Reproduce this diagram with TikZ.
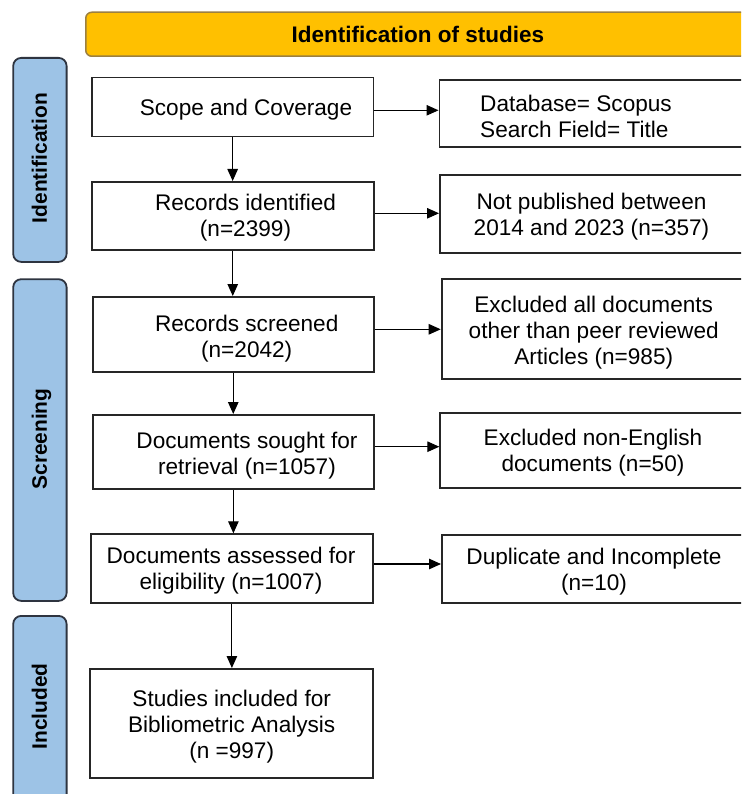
\documentclass[tikz,border=0pt]{standalone}
\usepackage{fontspec}
\setmainfont{Liberation Sans}
\usetikzlibrary{arrows.meta}
\definecolor{gold}{HTML}{FFC000}
\definecolor{goldedge}{HTML}{9C8040}
\definecolor{sidefill}{HTML}{9DC3E6}
\definecolor{sideedge}{HTML}{2E3440}
\definecolor{boxedge}{HTML}{262626}
\begin{document}
\begin{tikzpicture}[x=1pt,y=-1pt,
  box/.style={draw=boxedge, line width=1.8pt, fill=white, anchor=north west, inner sep=0pt},
  txt/.style={align=center, font=\fontsize{22.6}{26}\selectfont, inner sep=0pt},
  side/.style={draw=sideedge, fill=sidefill, line width=1.8pt, rounded corners=8pt, anchor=north west, inner sep=0pt, minimum width=53.4pt},
  sidelabel/.style={rotate=90, anchor=base, inner sep=0pt, font=\bfseries\fontsize{20.9}{24}\selectfont},
  arr/.style={line width=1.1pt, -{Triangle[length=12pt,width=10.5pt]}}]
\useasboundingbox (0,0) rectangle (741,794);
\clip (0,0) rectangle (741,794);

% header
\node[draw=goldedge, fill=gold, line width=1.5pt, rounded corners=6pt, anchor=north west,
      minimum width=685pt, minimum height=44pt, inner sep=0pt] (head) at (85,11.5) {};
\node[inner sep=0pt, font=\bfseries\fontsize{22.5}{26}\selectfont] (headtxt) at (417.8,34) {Identification of studies};

% side bars
\node[side, minimum height=204pt] (sideI) at (12.3,57) {};
\node[side, minimum height=321.7pt] (sideS) at (12.3,278.3) {};
\node[side, minimum height=200pt] (sideN) at (12.3,615) {};
\node[sidelabel] (labI) at (46.9,158) {Identification};
\node[sidelabel] (labS) at (46.9,439) {Screening};
\node[sidelabel] (labN) at (46.9,706.5) {Included};

% left boxes
\node[box, minimum width=281.5pt, minimum height=59pt]   (L1) at (91,76.7) {};
\node[box, minimum width=281.7pt, minimum height=68pt]   (L2) at (91,181) {};
\node[box, minimum width=281.3pt, minimum height=74.7pt] (L3) at (91.7,296) {};
\node[box, minimum width=281.6pt, minimum height=74.3pt] (L4) at (91.7,414) {};
\node[box, minimum width=282pt,   minimum height=68.4pt] (L5) at (90,533.3) {};
\node[box, minimum width=282.4pt, minimum height=108.7pt] (L6) at (89.3,668) {};

\node[txt] (t1) at (246,109.5) {Scope and Coverage};
\node[txt] (t2) at (245.5,217.5) {Records identified\\(n=2399)};
\node[txt] (t3) at (246.7,338.5) {Records screened\\(n=2042)};
\node[txt] (t4) at (247,455.5) {Documents sought for\\retrieval (n=1057)};
\node[txt] (t5) at (231,571) {Documents assessed for\\eligibility (n=1007)};
\node[txt] (t6) at (231.7,726.5) {Studies included for\\Bibliometric Analysis\\(n =997)};

% right boxes
\node[box, minimum width=332pt, minimum height=66.7pt] (R1) at (438.5,79.3) {};
\node[box, minimum width=332pt, minimum height=78pt]   (R2) at (439,174) {};
\node[box, minimum width=332pt, minimum height=100pt]  (R3) at (440.7,278.3) {};
\node[box, minimum width=332pt, minimum height=75.3pt] (R4) at (439.3,412) {};
\node[box, minimum width=332pt, minimum height=67.4pt] (R5) at (441,534.3) {};

\node[txt, align=left, anchor=west] (r1) at (480,116) {Database= Scopus\\Search Field= Title};
\node[txt] (r2) at (591.5,217) {Not published between\\2014 and 2023 (n=357)};
\node[txt] (r3) at (593.7,333) {Excluded all documents\\other than peer reviewed\\Articles (n=985)};
\node[txt] (r4) at (593,453) {Excluded non-English\\documents (n=50)};
\node[txt] (r5) at (594,571.5) {Duplicate and Incomplete\\(n=10)};

% vertical arrows
\draw[arr] (L1.south) -- (L1.south|-L2.north);
\draw[arr] (L2.south) -- (L2.south|-L3.north);
\draw[arr] (L3.south) -- (L3.south|-L4.north);
\draw[arr] (L4.south) -- (L4.south|-L5.north);
\draw[arr] (L5.south) -- (L5.south|-L6.north);

% horizontal arrows
\draw[arr] (L1.east|-0,110.3) -- (R1.west|-0,110.3);
\draw[arr] (L2.east|-0,213.3) -- (R2.west|-0,213.3);
\draw[arr] (L3.east|-0,329.3) -- (R3.west|-0,329.3);
\draw[arr] (L4.east|-0,446.7) -- (R4.west|-0,446.7);
\draw[arr] (L5.east|-0,564) -- (R5.west|-0,564);
\end{tikzpicture}
\end{document}
